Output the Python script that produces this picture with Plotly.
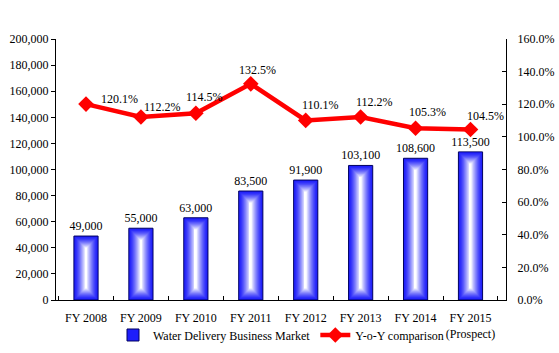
import plotly.graph_objects as go

categories = ["FY 2008", "FY 2009", "FY 2010", "FY 2011", "FY 2012", "FY 2013", "FY 2014", "FY 2015<br>(Prospect)"]
market_values = [49000, 55000, 63000, 83500, 91900, 103100, 108600, 113500]
yoy_values = [1.201, 1.122, 1.145, 1.325, 1.101, 1.122, 1.053, 1.045]
# label offsets (px) of the YoY texts relative to their points
yoy_dx = [33, 22, 9, 7, 15, 14, 12, 15]
yoy_dy = [5, 10, 16, 14, 15, 15, 16, 14]

FONT = "Liberation Serif"
BAR_W = 0.44
N_LAYERS = 13
PLOT_H_PX = 261.0
Y_MAX = 200000
BAR_PX = 25.0

fig = go.Figure()

# gradient bars: concentric layers (equal absolute inset in px)
data_per_px = Y_MAX / PLOT_H_PX
edge = (30, 30, 250)
for k in range(N_LAYERS):
    d = k * (BAR_PX / 2.0) / N_LAYERS  # inset in px
    f = k / (N_LAYERS - 1)
    g = f ** 1.4
    col = tuple(int(round(edge[i] + (255 - edge[i]) * g)) for i in range(3))
    w = BAR_W * (BAR_PX - 2 * d) / BAR_PX
    base = [min(d * data_per_px, v / 2) for v in market_values]
    heights = [max(v - 2 * d * data_per_px, 0) for v in market_values]
    first = k == 0
    fig.add_trace(go.Bar(
        x=categories, y=heights if not first else market_values,
        base=base if not first else None,
        width=w,
        marker=dict(color="rgb(%d,%d,%d)" % col,
                    line=dict(color="#000060" if first else "rgba(0,0,0,0)", width=1 if first else 0)),
        name="Water Delivery Business Market",
        showlegend=first,
        text=[f"{v:,}" for v in market_values] if first else None,
        textposition="outside" if first else "none",
        constraintext="none",
        textfont=dict(family=FONT, size=12, color="black"),
        cliponaxis=False,
        hoverinfo="skip" if not first else None,
    ))

fig.add_trace(go.Scatter(
    x=categories, y=yoy_values, yaxis="y2",
    mode="lines+markers",
    name="Y-o-Y comparison",
    line=dict(color="#FF0000", width=4.5),
    marker=dict(symbol="diamond", size=12, color="#FF0000"),
    cliponaxis=False,
))

for c, v, dx, dy in zip(categories, yoy_values, yoy_dx, yoy_dy):
    fig.add_annotation(x=c, y=v, xref="x", yref="y2", text=f"{v*100:.1f}%",
                       showarrow=False, xshift=dx, yshift=dy,
                       font=dict(family=FONT, size=12, color="black"))

fig.update_layout(
    width=559, height=353,
    margin=dict(l=56, r=53, t=39, b=53, autoexpand=False),
    paper_bgcolor="white", plot_bgcolor="white",
    barmode="overlay",
    font=dict(family=FONT, size=12, color="black"),
    showlegend=True,
    legend=dict(orientation="h", x=0.5, xanchor="center", yref="container", y=0.051, yanchor="middle",
                font=dict(family=FONT, size=12, color="black"),
                bgcolor="rgba(0,0,0,0)", itemwidth=30, tracegroupgap=0),
    xaxis=dict(type="category", showline=True, linecolor="black", linewidth=1,
               ticks="inside", tickson="boundaries", ticklen=4, tickcolor="black",
               tickangle=0, showgrid=False, automargin=False, ticklabelstandoff=7,
               tickfont=dict(family=FONT, size=12)),
    yaxis=dict(range=[0, Y_MAX], dtick=20000, tickformat=",", showline=True,
               linecolor="black", linewidth=1, ticks="outside", ticklen=4,
               tickcolor="black", showgrid=False, zeroline=False, automargin=False,
               tickfont=dict(family=FONT, size=12)),
    yaxis2=dict(range=[0, 1.6], dtick=0.2, tickformat=".1%", overlaying="y", side="right",
                showline=True, linecolor="black", linewidth=1, ticks="inside", ticklen=4,
                tickcolor="black", showgrid=False, zeroline=False, automargin=False,
                ticklabelstandoff=8, tickfont=dict(family=FONT, size=12)),
)

fig.write_html("out.html")
